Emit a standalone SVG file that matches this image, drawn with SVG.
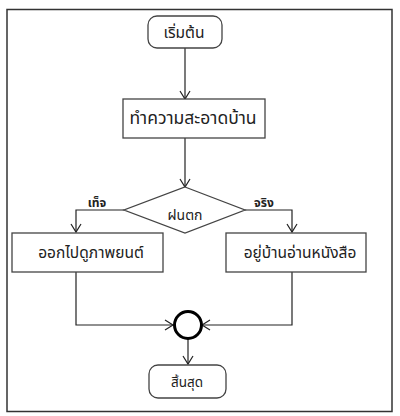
<svg xmlns="http://www.w3.org/2000/svg" width="400" height="416" viewBox="0 0 400 416">
<style>
.n{fill:#fff;stroke:#444;stroke-width:1.3}
.t{font-family:"Noto Sans Thai","Tahoma","Liberation Sans","Noto Sans",sans-serif;font-size:15.5px;fill:#222;text-anchor:middle}
.l{font-family:"Noto Sans Thai","Tahoma","Liberation Sans","Noto Sans",sans-serif;font-size:12px;font-weight:bold;fill:#222;text-anchor:middle}
.c{fill:none;stroke:#222;stroke-width:1.2}
</style>
<defs>
<marker id="a" markerWidth="12" markerHeight="12" refX="10" refY="6" orient="auto" markerUnits="userSpaceOnUse">
<path d="M2,1 L10,6 L2,11" fill="none" stroke="#222" stroke-width="1.2"/>
</marker>
</defs>
<rect x="7" y="9.5" width="385" height="402" fill="#fff" stroke="#333" stroke-width="1.5"/>
<g id="connectors">
<path class="c" d="M185,48 V99" marker-end="url(#a)"/>
<path class="c" d="M185,138 V187" marker-end="url(#a)"/>
<path class="c" d="M124,210 H76 V232" marker-end="url(#a)"/>
<path class="c" d="M245,210 H292 V232" marker-end="url(#a)"/>
<path class="c" d="M76,272 V325 H173" marker-end="url(#a)"/>
<path class="c" d="M292,272 V325 H202" marker-end="url(#a)"/>
<path class="c" d="M188,339 V364" marker-end="url(#a)"/>
</g>
<g id="start">
<rect class="n" x="148" y="16" width="74" height="32" rx="9"/>
<text class="t" x="184" y="38">เริ่มต้น</text>
</g>
<g id="clean">
<rect class="n" x="123" y="99" width="142" height="39"/>
<text class="t" x="193" y="124" style="font-size:17.5px">ทำความสะอาดบ้าน</text>
</g>
<g id="rain">
<polygon class="n" points="185,187 245,210 185,233 124,210"/>
<text class="t" x="185" y="220" style="font-size:14px">ฝนตก</text>
</g>
<g id="labels">
<text class="l" x="97" y="207">เท็จ</text>
<text class="l" x="264" y="207">จริง</text>
</g>
<g id="movie">
<rect class="n" x="12" y="233" width="151" height="39"/>
<text class="t" x="91" y="258">ออกไปดูภาพยนต์</text>
</g>
<g id="read">
<rect class="n" x="226" y="233" width="140" height="39"/>
<text class="t" x="300" y="258">อยู่บ้านอ่านหนังสือ</text>
</g>
<g id="merge">
<circle cx="188" cy="325" r="13.5" fill="#fff" stroke="#000" stroke-width="3"/>
</g>
<g id="end">
<rect class="n" x="149" y="365" width="77" height="33" rx="9"/>
<text class="t" x="187" y="387" style="font-size:13.5px">สิ้นสุด</text>
</g>
</svg>
